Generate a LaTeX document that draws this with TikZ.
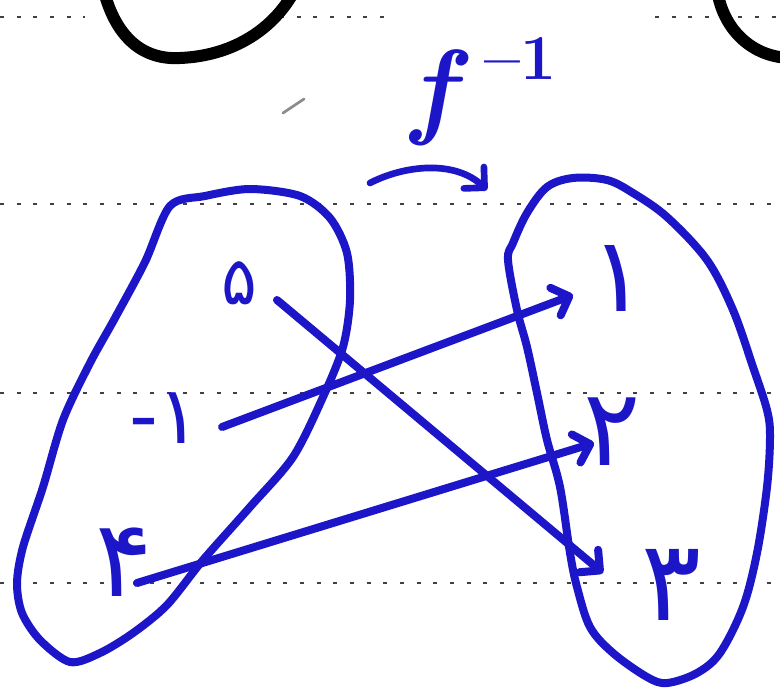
\documentclass[tikz,border=0pt]{standalone}
\usepackage{fontspec}
\usetikzlibrary{arrows.meta}
\newfontfamily\pfont{DejaVu Sans}
\definecolor{ink}{RGB}{28,22,200}
\begin{document}
\begin{tikzpicture}[x=0.75pt,y=-0.75pt,
  ruled/.style={draw=black!75,line width=1.6pt,dash pattern=on 3pt off 9.5pt},
  pen/.style={draw=ink,line width=6pt,line cap=round,line join=round},
  mapsto/.style={pen,-{Straight Barb[length=11pt,width=22pt,round]}},
  digit/.style={text=ink,font=\pfont\fontsize{#1}{#1}\selectfont,inner sep=0pt},
  blackpen/.style={draw=black,line width=9pt,line cap=round}
]
\useasboundingbox (0,0) rectangle (780,693);
\fill[white] (0,0) rectangle (780,693);
% ruled notebook lines
\draw[ruled] (0,17) -- (85,17);
\draw[ruled] (280,17) -- (395,17);
\draw[ruled] (655,17) -- (780,17);
\draw[ruled] (0,204) -- (780,204);
\draw[ruled] (0,393) -- (780,393);
\draw[ruled] (0,583) -- (780,583);
% black circles at the top (cut off)
\draw[blackpen] (105,-5) .. controls (118,40) and (145,60) .. (180,58) .. controls (230,56) and (270,32) .. (292,-5);
\draw[blackpen] (718,-5) .. controls (725,30) and (752,57) .. (790,58);
% faint pencil mark
\draw[black!45,line width=2pt,line cap=round] (283,113) -- (304,99);
% left set
\draw[pen] plot[smooth cycle,tension=0.5] coordinates {(170,206) (205,196) (250,189) (300,196) (330,218) (347,253) (350,300) (343,347) (323,397) (293,457) (250,507) (203,560) (167,605) (133,633) (100,653) (70,662) (40,640) (22,613) (17,583) (23,547) (43,487) (63,420) (90,363) (115,318) (145,262)};
% right set
\draw[pen] plot[smooth cycle,tension=0.55] coordinates {(573,178) (607,180) (633,193) (667,217) (707,260) (733,310) (753,367) (767,410) (770,437) (767,487) (757,553) (743,607) (720,653) (697,673) (667,683) (647,677) (613,653) (590,627) (577,587) (570,553) (560,487) (547,440) (537,393) (527,347) (517,310) (508,260) (513,243) (527,213) (547,187)};
% labels
\node[digit=50] (l5) at (239,283) {۵};
\node[digit=60] (lm1) at (165,418) {-۱};
\node[digit=80] (l4) at (124,562) {۴};
\node[digit=78] (r1) at (618,278) {۱};
\node[digit=80] (r2) at (612,432) {۲};
\node[digit=84] (r3) at (672,585) {۳};
\node[text=ink,font=\fontsize{80}{80}\selectfont\bfseries,inner sep=0pt] (fl) at (484,92) {\itshape f\upshape\kern0.28em\raisebox{0.42em}{\fontsize{48}{48}\selectfont\textendash 1}};
% connector ends
\coordinate (s5) at (277,300);
\coordinate (t3) at (603,573);
\coordinate (sm1) at (222,427);
\coordinate (t1) at (573,295);
\coordinate (s4) at (137,583);
\coordinate (t2) at (594,443);
\coordinate (fa) at (370,183);
\coordinate (fb) at (487,190);
% mappings
\draw[mapsto] (s5) -- (t3);
\draw[mapsto] (sm1) -- (t1);
\draw[mapsto] (s4) -- (t2);
\draw[mapsto,line width=5pt] (fa) .. controls (405,165) and (455,160) .. (fb);
\end{tikzpicture}
\end{document}
